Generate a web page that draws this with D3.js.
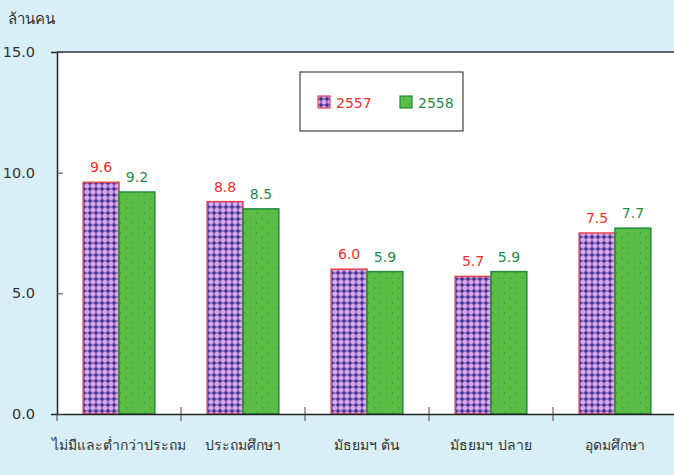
<!DOCTYPE html>
<html>
<head>
<meta charset="utf-8">
<script src="https://cdn.jsdelivr.net/npm/d3@7"></script>
<style>
  body { margin: 0; background: #d9eff7; }
  svg { display: block; font-family: Tahoma, "DejaVu Sans", sans-serif; }
</style>
</head>
<body>
<div id="chart"></div>
<script>
const categories = ['ไม่มีและต่ำกว่าประถม', 'ประถมศึกษา', 'มัธยมฯ ต้น', 'มัธยมฯ ปลาย', 'อุดมศึกษา'];
const series = ['2557', '2558'];
const values2557 = [9.6, 8.8, 6.0, 5.7, 7.5];
const values2558 = [9.2, 8.5, 5.9, 5.9, 7.7];
const yTicks = [0, 5, 10, 15];

const width = 674;
const height = 475;
const margin = { top: 52, right: -3, bottom: 61, left: 57 };

const svg = d3.select('#chart')
  .append('svg')
  .attr('width', width)
  .attr('height', height);

// patterns
const defs = svg.append('defs');
const plaid = defs.append('pattern')
  .attr('id', 'plaid')
  .attr('patternUnits', 'userSpaceOnUse')
  .attr('width', 6).attr('height', 6);
plaid.append('rect').attr('width', 6).attr('height', 6).attr('fill', '#dcaaea');
plaid.append('rect').attr('x', 0).attr('y', 2).attr('width', 6).attr('height', 2).attr('fill', '#9876cc');
plaid.append('rect').attr('x', 2).attr('y', 0).attr('width', 2).attr('height', 6).attr('fill', '#9876cc');
plaid.append('rect').attr('x', 1.5).attr('y', 1.5).attr('width', 3).attr('height', 3).attr('fill', '#40318a');

const speck = defs.append('pattern')
  .attr('id', 'speck')
  .attr('patternUnits', 'userSpaceOnUse')
  .attr('width', 12).attr('height', 10);
speck.append('rect').attr('width', 12).attr('height', 10).attr('fill', '#5cbd46');
speck.append('rect').attr('x', 3).attr('y', 2).attr('width', 1).attr('height', 2).attr('fill', '#3f9e3c');
speck.append('rect').attr('x', 9).attr('y', 7).attr('width', 1).attr('height', 2).attr('fill', '#3f9e3c');

const fills = { '2557': 'url(#plaid)', '2558': 'url(#speck)' };
const strokes = { '2557': '#e8414a', '2558': '#1f8c3e' };
const labelColors = { '2557': '#ee2e2e', '2558': '#1e8c4c' };

const x = d3.scaleBand()
  .domain(categories)
  .range([margin.left, width - margin.right]);

const x1 = d3.scaleBand()
  .domain(series)
  .range([0, x.bandwidth()])
  .paddingOuter(0.73)
  .paddingInner(0);

const y = d3.scaleLinear()
  .domain([0, 15])
  .range([height - margin.bottom, margin.top]);

// plot area
svg.append('rect')
  .attr('x', margin.left)
  .attr('y', margin.top)
  .attr('width', width - margin.left)
  .attr('height', y(0) - margin.top)
  .attr('fill', '#ffffff');

svg.append('line')
  .attr('x1', margin.left).attr('x2', width)
  .attr('y1', margin.top).attr('y2', margin.top)
  .attr('stroke', '#333').attr('stroke-width', 1.5);

const table = categories.map((c, i) => ({
  category: c,
  items: [
    { key: '2557', value: values2557[i] },
    { key: '2558', value: values2558[i] }
  ]
}));

const groups = svg.append('g')
  .selectAll('g')
  .data(table)
  .join('g')
    .attr('transform', d => `translate(${x(d.category)},0)`);

groups.selectAll('rect')
  .data(d => d.items)
  .join('rect')
    .attr('x', d => x1(d.key))
    .attr('y', d => y(d.value))
    .attr('width', x1.bandwidth())
    .attr('height', d => y(0) - y(d.value))
    .attr('fill', d => fills[d.key])
    .attr('stroke', d => strokes[d.key])
    .attr('stroke-width', 1.5);

groups.selectAll('text')
  .data(d => d.items)
  .join('text')
    .attr('x', d => x1(d.key) + x1.bandwidth() / 2)
    .attr('y', d => y(d.value) - 10)
    .attr('text-anchor', 'middle')
    .attr('font-size', 14)
    .attr('fill', d => labelColors[d.key])
    .text(d => d.value.toFixed(1));

// axes
const yAxis = g => g
  .attr('transform', `translate(${margin.left},0)`)
  .call(d3.axisLeft(y).tickValues(yTicks).tickFormat(d3.format('.1f')).tickSize(6).tickPadding(16))
  .call(g => g.select('.domain').attr('stroke', '#222').attr('stroke-width', 1.5))
  .call(g => g.selectAll('.tick line').attr('x2', 6).attr('stroke', '#444'))
  .call(g => g.selectAll('.tick text').attr('font-size', 14.5).attr('fill', '#333')
    .attr('font-family', 'Tahoma, "DejaVu Sans", sans-serif'));

const xAxis = g => g
  .attr('transform', `translate(0,${y(0)})`)
  .call(d3.axisBottom(x).tickSize(0).tickPadding(26))
  .call(g => g.select('.domain').attr('stroke', '#222').attr('stroke-width', 1.5))
  .call(g => g.selectAll('.tick text').attr('font-size', 14).attr('fill', '#333')
    .attr('font-family', 'Tahoma, "DejaVu Sans", sans-serif'));

svg.append('g').call(xAxis);
svg.append('g').call(yAxis);

// category boundary ticks
svg.append('g')
  .selectAll('line')
  .data(categories)
  .join('line')
    .attr('x1', d => x(d)).attr('x2', d => x(d))
    .attr('y1', (d, i) => i === 0 ? y(0) : y(0) - 7)
    .attr('y2', y(0) + 7)
    .attr('stroke', '#444').attr('stroke-width', 1);

// unit label
svg.append('text')
  .attr('x', 8).attr('y', 24)
  .attr('font-size', 15).attr('fill', '#333')
  .text('ล้านคน');

// legend
const legend = svg.append('g').attr('transform', 'translate(300,72)');
legend.append('rect')
  .attr('width', 163).attr('height', 59)
  .attr('fill', '#fff').attr('stroke', '#444').attr('stroke-width', 1.2);

const legendX = { '2557': 18, '2558': 100 };
const li = legend.selectAll('g.item')
  .data(series)
  .join('g')
    .attr('class', 'item')
    .attr('transform', d => `translate(${legendX[d]},24)`);
li.append('rect')
  .attr('width', 12).attr('height', 12)
  .attr('fill', d => fills[d])
  .attr('stroke', d => strokes[d]).attr('stroke-width', 1.2);
li.append('text')
  .attr('x', 18).attr('y', 12)
  .attr('font-size', 14)
  .attr('fill', d => labelColors[d])
  .text(d => d);
</script>
</body>
</html>
